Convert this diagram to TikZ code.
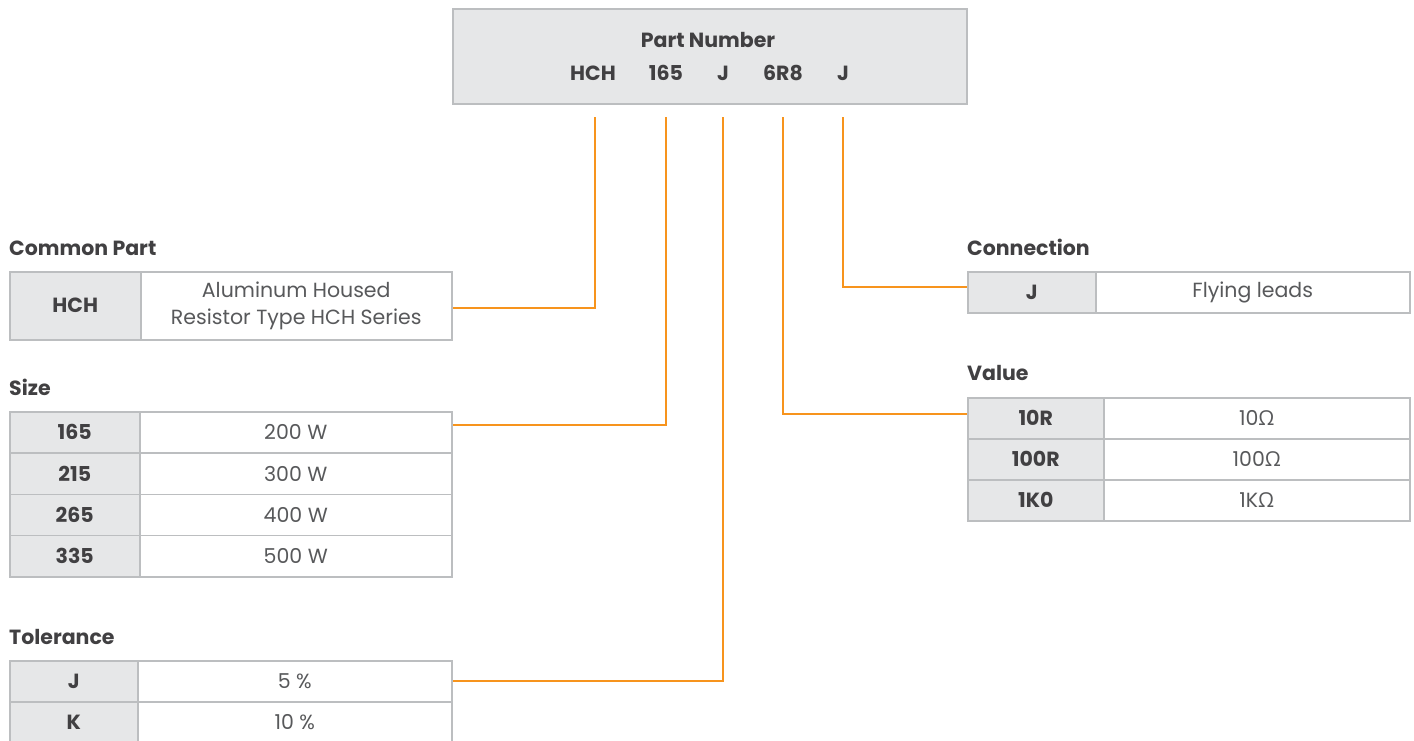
\documentclass[tikz,border=0pt]{standalone}
\usepackage{fontspec}
\setmainfont{Poppins}
\newfontfamily\omegafont{Open Sans}
\newcommand{\ohm}{{\omegafont Ω}}
\definecolor{orng}{HTML}{F7941D}
\definecolor{cellgray}{HTML}{E6E7E8}
\definecolor{bordergray}{HTML}{BCBEC0}
\definecolor{darktext}{HTML}{414042}
\definecolor{lighttext}{HTML}{58595B}
\begin{document}
\begin{tikzpicture}[x=1pt,y=-1pt,
  keycell/.style={draw=bordergray, line width=1.5pt, fill=cellgray, anchor=north west, inner sep=0pt, font=\fontsize{20.5}{24}\selectfont\bfseries, text=darktext},
  valcell/.style={draw=bordergray, line width=1.5pt, fill=white, anchor=north west, inner sep=0pt, font=\fontsize{20.5}{27}\selectfont, text=lighttext, align=center},
  title/.style={anchor=base west, inner sep=0pt, font=\fontsize{20.5}{24}\selectfont\bfseries, text=darktext},
  code/.style={inner sep=0pt, font=\fontsize{20.5}{24}\selectfont\bfseries, text=darktext},
  conn/.style={draw=orng, line width=2pt}]
\clip (0,0) rectangle (1414,740);
% top box
\node[draw=bordergray, line width=1.5pt, fill=cellgray, anchor=north west, minimum width=514pt, minimum height=95pt, inner sep=0pt] (pnbox) at (452,8) {};
\node[code] (pntitle) at (708,40) {Part Number};
\node[code] (pn1) at (593,73) {HCH};
\node[code] (pn2) at (666,73) {165};
\node[code] (pn3) at (723,73) {J};
\node[code] (pn4) at (783,73) {6R8};
\node[code] (pn5) at (843,73) {J};
\coordinate (c1) at (595,117);
\coordinate (c2) at (666,117);
\coordinate (c3) at (723,117);
\coordinate (c4) at (783,117);
\coordinate (c5) at (843,117);
% Common part
\node[title] (tcp) at (9,255) {Common Part};
\node[keycell, minimum width=131pt, minimum height=68pt] (cpk) at (9,271) {HCH};
\node[valcell, minimum width=311pt, minimum height=68pt] (cpv) at (140,271) {Aluminum Housed\\Resistor Type HCH Series};
% Size
\node[title] (tsz) at (9,395) {Size};
\node[keycell, minimum width=130pt, minimum height=41.25pt] (s1k) at (9,411) {165};
\node[valcell, minimum width=312pt, minimum height=41.25pt] (s1v) at (139,411) {200 W};
\node[keycell, minimum width=130pt, minimum height=41.25pt] (s2k) at (9,452.25) {215};
\node[valcell, minimum width=312pt, minimum height=41.25pt] (s2v) at (139,452.25) {300 W};
\node[keycell, minimum width=130pt, minimum height=41.25pt] (s3k) at (9,493.5) {265};
\node[valcell, minimum width=312pt, minimum height=41.25pt] (s3v) at (139,493.5) {400 W};
\node[keycell, minimum width=130pt, minimum height=41.25pt] (s4k) at (9,534.75) {335};
\node[valcell, minimum width=312pt, minimum height=41.25pt] (s4v) at (139,534.75) {500 W};
% Tolerance
\node[title] (ttl) at (9,644) {Tolerance};
\node[keycell, minimum width=128pt, minimum height=41pt] (t1k) at (9,660) {J};
\node[valcell, minimum width=314pt, minimum height=41pt] (t1v) at (137,660) {5 \%};
\node[keycell, minimum width=128pt, minimum height=41pt] (t2k) at (9,701) {K};
\node[valcell, minimum width=314pt, minimum height=41pt] (t2v) at (137,701) {10 \%};
% Connection
\node[title] (tcn) at (967,255) {Connection};
\node[keycell, minimum width=128pt, minimum height=41pt] (cnk) at (967,271) {J};
\node[valcell, minimum width=314pt, minimum height=41pt] (cnv) at (1095,271) {Flying leads};
% Value
\node[title] (tvl) at (967,380) {Value};
\node[keycell, minimum width=136pt, minimum height=41pt] (v1k) at (967,397) {10R};
\node[valcell, minimum width=306pt, minimum height=41pt] (v1v) at (1103,397) {10\ohm};
\node[keycell, minimum width=136pt, minimum height=41pt] (v2k) at (967,438) {100R};
\node[valcell, minimum width=306pt, minimum height=41pt] (v2v) at (1103,438) {100\ohm};
\node[keycell, minimum width=136pt, minimum height=41pt] (v3k) at (967,479) {1K0};
\node[valcell, minimum width=306pt, minimum height=41pt] (v3v) at (1103,479) {1K\ohm};
% connectors
\draw[conn] (c1) |- ([yshift=-2pt]cpv.east);
\draw[conn] (c2) |- ([yshift=7pt]s1v.east);
\draw[conn] (c3) |- (t1v.east);
\draw[conn] (c4) |- ([yshift=4.5pt]v1k.west);
\draw[conn] (c5) |- ([yshift=5pt]cnk.west);
\end{tikzpicture}
\end{document}
